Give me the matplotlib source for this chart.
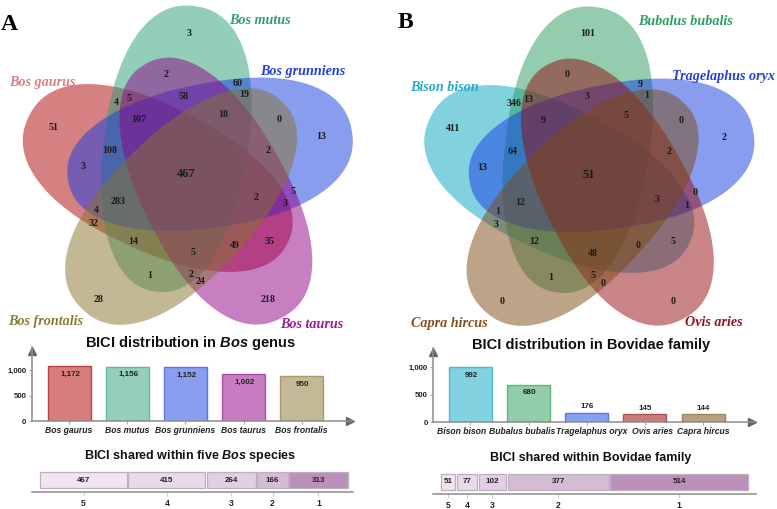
import numpy as np
import matplotlib
matplotlib.use('Agg')
import matplotlib.pyplot as plt
from matplotlib.patches import Polygon

W, H = 777, 509
SERIF = 'Liberation Serif'
SANS = 'Liberation Sans'

plt.rcParams['mathtext.fontset'] = 'custom'
plt.rcParams['mathtext.bf'] = 'Liberation Sans:bold'
plt.rcParams['mathtext.bfit'] = 'Liberation Sans:italic:bold'

# Panel A data
bos_species = ['Bos gaurus', 'Bos mutus', 'Bos grunniens', 'Bos taurus', 'Bos frontalis']
bos_totals = [1172, 1156, 1152, 1002, 950]
bos_total_labels = ['1,172', '1,156', '1,152', '1,002', '950']
bos_shared = [467, 415, 264, 166, 313]
bos_shared_ticks = ['5', '4', '3', '2', '1']
bos_venn_counts = [3, 60, 19, 2, 58, 18, 0, 13, 4, 5, 107, 51, 108, 2, 3, 467,
                   5, 2, 283, 3, 4, 32, 14, 35, 49, 5, 2, 1, 24, 28, 218]

# Panel B data
bov_species = ['Bison bison', 'Bubalus bubalis', 'Tragelaphus oryx', 'Ovis aries', 'Capra hircus']
bov_totals = [992, 680, 176, 145, 144]
bov_shared = [51, 77, 102, 377, 514]
bov_shared_ticks = ['5', '4', '3', '2', '1']
bov_venn_counts = [101, 0, 9, 1, 3, 346, 13, 5, 9, 0, 411, 2, 64, 2, 13, 51,
                   0, 3, 12, 1, 1, 3, 12, 5, 0, 48, 5, 1, 0, 0, 0]

# where the venn numbers sit, in 3x zoom pixels
bos_venn_xy = [(567, 100), (713, 250), (733, 283), (497, 222), (550, 288), (669, 342), (838, 358), (963, 410),
               (348, 307), (386, 294), (417, 358), (162, 382), (330, 452), (803, 452), (249, 499), (558, 522),
               (880, 574), (767, 594), (353, 605), (854, 612), (289, 631), (280, 671), (400, 723), (809, 723),
               (703, 735), (578, 758), (574, 824), (449, 828), (600, 846), (296, 900), (805, 900)]
bov_venn_xy = [(592, 101), (530, 224), (752, 252), (771, 285), (590, 290), (372, 309), (415, 297), (707, 345),
               (459, 361), (873, 361), (190, 384), (1002, 412), (368, 456), (837, 456), (278, 502), (596, 525),
               (915, 577), (801, 597), (392, 608), (889, 615), (322, 635), (318, 674), (434, 726), (848, 726),
               (743, 738), (608, 762), (608, 827), (483, 832), (639, 849), (335, 903), (848, 903)]

# petal colours: left, top, right, lower right, lower left
bos_colors = ['#af0505', '#29a173', '#153de1', '#910087', '#87732d']
bov_colors = ['#05a5c0', '#2b9a5c', '#153de1', '#930a10', '#7c4a14']
petal_angles = [288, 0, 72, 144, 216]


def px_axes(fig, left, top, right, bottom):
    return fig.add_axes([left / W, 1 - bottom / H, (right - left) / W, (bottom - top) / H])


def petal(cx, cy, angle):
    # blunt egg, a little wider at the outer end, screen coordinates with y down
    t = np.linspace(0, 2 * np.pi, 400)
    c, s = np.cos(t), np.sin(t)
    x = 72 * np.sign(c) * np.abs(c) ** 0.89 * (1 + 0.05 * s)
    y = -144 * np.sign(s) * np.abs(s) ** 0.89
    a = np.radians(angle + 8)
    off = np.radians(angle - 25)
    return np.column_stack([cx + 30 * np.sin(off) + x * np.cos(a) - y * np.sin(a),
                            cy - 30 * np.cos(off) + x * np.sin(a) + y * np.cos(a)])


def draw_venn(ax, cx, cy, colors, counts, xy, x_off, big):
    for angle, c in zip(petal_angles, colors):
        ax.add_patch(Polygon(petal(cx, cy, angle), closed=True, fc=c, ec='none', alpha=0.5))
    for n, (x, y) in zip(counts, xy):
        size = 9 if (x, y) == big else 7.2
        ax.text(x / 3 + x_off, y / 3, str(n), ha='center', va='center', family=SERIF,
                fontweight='bold', fontsize=size, color='#1a1a1a')


def draw_bars(fig, box, values, labels, colors, edge_colors, value_labels, scale, tick_vals, tick_names,
              centers, label_x, inside):
    left, top, right, bottom = box
    ax = px_axes(fig, left, top, right, bottom)
    ax.bar(centers, values, width=43, color=colors, edgecolor=edge_colors, linewidth=1)
    ax.set_xlim(left, right)
    ax.set_ylim(0, (bottom - top) / scale)
    ax.patch.set_visible(False)
    for s in ['top', 'right']:
        ax.spines[s].set_visible(False)
    for s in ['left', 'bottom']:
        ax.spines[s].set_color('#8c8c8c')
        ax.spines[s].set_linewidth(1.1)
    ax.plot(1 - 3.5 / (right - left), 0, '>', transform=ax.transAxes, color='#666666', ms=6, clip_on=False)
    ax.plot(0, 1 - 3.5 / (bottom - top), '^', transform=ax.transAxes, color='#666666', ms=6, clip_on=False)
    ax.set_yticks(tick_vals)
    ax.set_yticklabels(tick_names, family=SANS, fontweight='bold', fontsize=5.6, color='#222222')
    ax.set_xticks(centers)
    ax.set_xticklabels([])
    ax.tick_params(axis='both', length=2.5, width=0.8, color='#aaaaaa', pad=1.5)
    for x, lab in zip(label_x, labels):
        ax.annotate(lab, (x, 0), xytext=(0, -9.5), textcoords='offset pixels', ha='center', va='center',
                    family=SANS, style='italic', fontweight='bold', fontsize=6.2, color='#222222')
    for x, v, lab, ins in zip(centers, values, value_labels, inside):
        off = -8 if ins else 6
        ax.annotate(lab, (x + (1.5 if ins else 0), v), xytext=(0, off), textcoords='offset pixels', ha='center',
                    va='center', family=SANS, fontweight='bold', fontsize=5.8, color='#222222')
    return ax


def draw_shared(fig, box, line_y, bar_top, bar_bottom, values, tick_names, x0, unit, gap, shades):
    left, right = box
    ax = px_axes(fig, left, bar_top - 2, right, line_y + 0.5)
    ax.set_xlim(left, right)
    ax.set_ylim(line_y + 0.5, bar_top - 2)
    ax.patch.set_visible(False)
    widths = np.array(values) * unit
    lefts = x0 + np.concatenate([[0], np.cumsum(widths[:-1] + gap)])
    ax.barh([(bar_top + bar_bottom) / 2] * len(values), widths, left=lefts, height=bar_bottom - bar_top,
            color=shades, edgecolor='#bcb0bc', linewidth=0.9)
    for s in ['top', 'right', 'left']:
        ax.spines[s].set_visible(False)
    ax.spines['bottom'].set_color('#8c8c8c')
    ax.spines['bottom'].set_linewidth(1.1)
    ax.set_yticks([])
    centers = lefts + widths / 2
    ax.set_xticks(centers)
    ax.set_xticklabels(tick_names, family=SANS, fontweight='bold', fontsize=6.2, color='#222222')
    ax.tick_params(axis='x', length=3, width=0.8, color='#cccccc', pad=2.5)
    for x, v in zip(centers, values):
        ax.text(x, (bar_top + bar_bottom) / 2, str(v), ha='center', va='center', family=SANS,
                fontweight='bold', fontsize=5.8, color='#222222')


fig = plt.figure(figsize=(W / 100, H / 100), dpi=100)
bg = fig.add_axes([0, 0, 1, 1])
bg.set_xlim(0, W)
bg.set_ylim(H, 0)
bg.axis('off')

draw_venn(bg, 188, 176, bos_colors, bos_venn_counts, bos_venn_xy, 0, (558, 522))
draw_venn(bg, 589.5, 177, bov_colors, bov_venn_counts, bov_venn_xy, 390, (596, 525))

name_style = dict(ha='center', va='center', family=SERIF, style='italic', fontweight='bold', fontsize=10.2)
bg.text(260, 20, bos_species[1], color='#2e9e78', **name_style)
bg.text(303, 71, bos_species[2], color='#2440d8', **name_style)
bg.text(42, 82, bos_species[0], color='#d98080', **name_style)
bg.text(46, 322, bos_species[4], color='#8a7a35', **name_style)
bg.text(312, 325, bos_species[3], color='#a01a96', **name_style)
bg.text(685, 21, bov_species[1], color='#2e9e62', **name_style)
bg.text(724, 76, bov_species[2], color='#2440d8', **name_style)
bg.text(444, 87, bov_species[0], color='#22aac8', **name_style)
bg.text(449, 323, bov_species[4], color='#85501e', **name_style)
bg.text(714, 323, bov_species[3], color='#96141e', **name_style)
bg.text(9, 24, 'A', ha='center', va='center', family=SERIF, fontweight='bold', fontsize=17, color='black')
bg.text(405, 22, 'B', ha='center', va='center', family=SERIF, fontweight='bold', fontsize=17, color='black')

title_style = dict(ha='center', va='center', family=SANS, fontweight='bold', color='#111111')
bg.text(190.5, 343.5, r'BICI distribution in $\mathbfit{Bos}$ genus', fontsize=10.5, **title_style)
bg.text(190.5, 456, r'BICI shared within five $\mathbfit{Bos}$ species', fontsize=9, **title_style)
bg.text(591, 345, 'BICI distribution in Bovidae family', fontsize=10.5, **title_style)
bg.text(591, 458, 'BICI shared within Bovidae family', fontsize=9, **title_style)

bos_fill = ['#d77d7d', '#94d0b9', '#8a9ef0', '#c87dc3', '#c3b996']
bos_edge = ['#c0404a', '#62b898', '#5a78e0', '#a84fa8', '#a89a6a']
bov_fill = ['#82d2e1', '#91cda8', '#8a9ef0', '#c87d7d', '#b9a07f']
bov_edge = ['#4fb8cc', '#5fb384', '#5a78e0', '#b05058', '#a08460']

draw_bars(fig, (32, 347, 353, 421), bos_totals, bos_species, bos_fill, bos_edge, bos_total_labels, 0.047,
          [0, 540, 1085], ['0', '500', '1,000'], [69.2, 127.4, 185.3, 243.5, 301.5],
          [69, 127, 185, 243, 301], [True] * 5)
draw_bars(fig, (433.3, 348, 755.7, 422.3), bov_totals, bov_species, bov_fill, bov_edge,
          [str(v) for v in bov_totals], 0.0554, [0, 500, 1000], ['0', '500', '1,000'],
          [470.3, 528.5, 586.7, 644.8, 703.2], [461.7, 522, 592, 652.7, 703], [True, True, False, False, False])

shades = ['#f0e4f0', '#e8daeb', '#e1d0e4', '#d4bcd7', '#b991b9']
draw_shared(fig, (32, 353), 491.3, 472.3, 487.7, bos_shared, bos_shared_ticks, 40.3, 0.1856, 1.4, shades)
draw_shared(fig, (433.3, 755.7), 493.3, 473.7, 489.7, bov_shared, bov_shared_ticks, 441.3, 0.268, 1.6, shades)

fig.savefig('out.png', dpi=100)
